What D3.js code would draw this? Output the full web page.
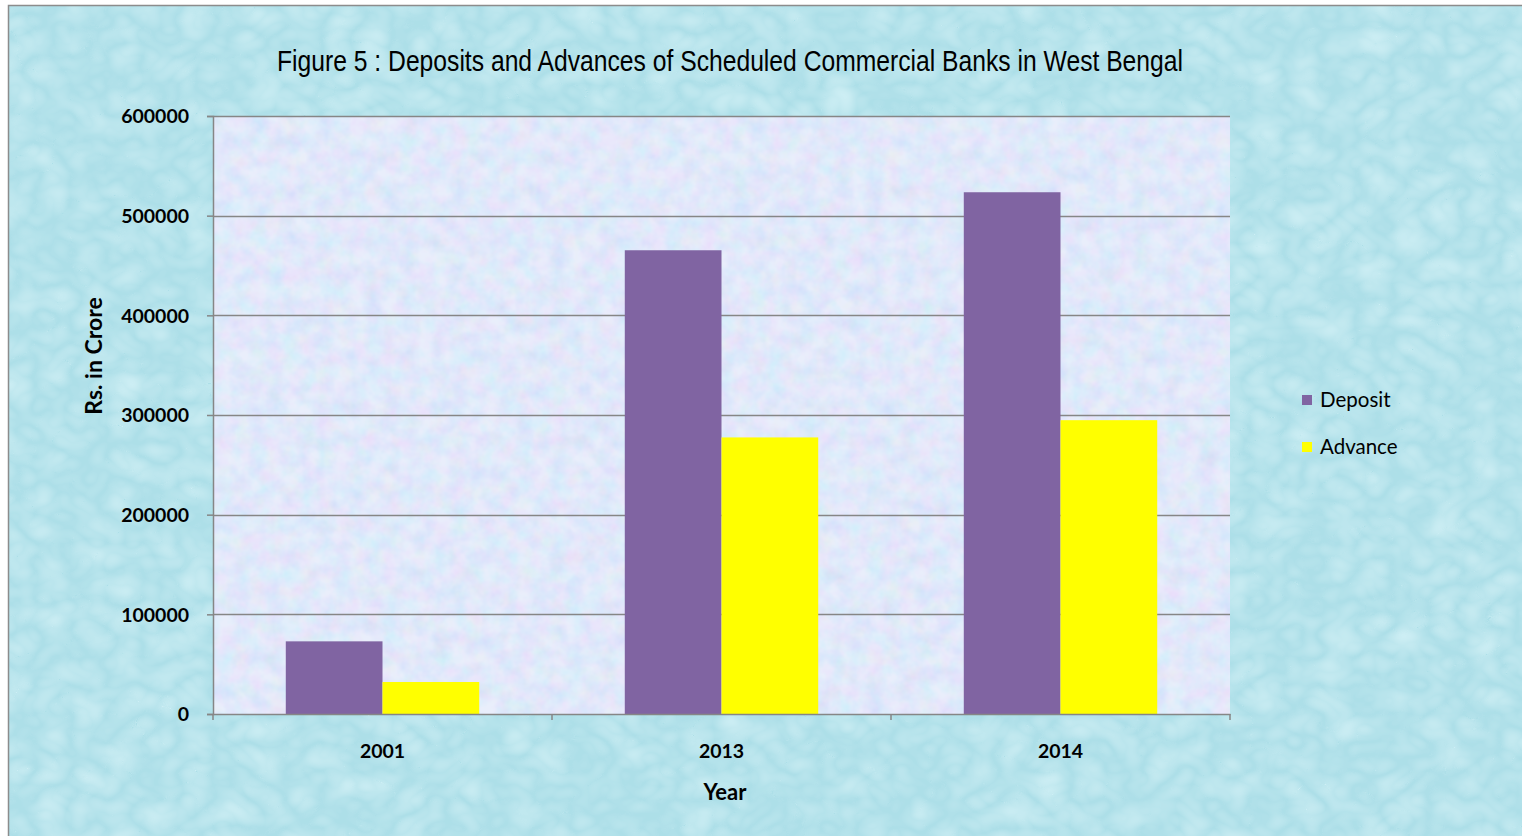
<!DOCTYPE html>
<html>
<head>
<meta charset="utf-8">
<script src="https://cdn.jsdelivr.net/npm/d3@7"></script>
<style>
html,body{margin:0;padding:0;background:#ffffff;overflow:hidden;}
svg{display:block;}
</style>
</head>
<body>
<script>
const categories = ["2001", "2013", "2014"];
const seriesNames = ["Deposit", "Advance"];
const depositValues = [72900, 465300, 523500];
const advanceValues = [32100, 277500, 294800];
const yTicks = [0, 100000, 200000, 300000, 400000, 500000, 600000];
const seriesColors = ["#8064a2", "#ffff00"];
const titleText = "Figure 5 : Deposits and Advances of Scheduled Commercial Banks in West Bengal";
const yTitle = "Rs. in Crore";
const xTitle = "Year";

const W = 1522, H = 836;
const plot = {left: 213, top: 116, right: 1230, bottom: 714};

const svg = d3.select("body").append("svg").attr("width", W).attr("height", H);
const defs = svg.append("defs");

// outer water texture
const f1 = defs.append("filter").attr("id", "water").attr("x", 0).attr("y", 0).attr("width", "100%").attr("height", "100%");
f1.append("feTurbulence").attr("type", "turbulence").attr("baseFrequency", "0.028 0.035").attr("numOctaves", 2).attr("seed", 7).attr("result", "t");
f1.append("feColorMatrix").attr("in", "t").attr("type", "matrix")
  .attr("values", "0 0 0 0 0.62  0 0 0 0 0.86  0 0 0 0 0.91  1.2 0 0 0 -0.05").attr("result", "c");
f1.append("feComposite").attr("in", "c").attr("in2", "SourceGraphic").attr("operator", "over");

// plot area pastel texture
const f2 = defs.append("filter").attr("id", "pastel").attr("x", 0).attr("y", 0).attr("width", "100%").attr("height", "100%");
f2.append("feTurbulence").attr("type", "fractalNoise").attr("baseFrequency", "0.06").attr("numOctaves", 3).attr("seed", 3).attr("result", "n");
f2.append("feColorMatrix").attr("in", "n").attr("type", "matrix")
  .attr("values", "0.6 0 0 0 0.58  0 0.4 0 0 0.72  0 0 0.3 0 0.84  0 0 0 0 0.5").attr("result", "c");
f2.append("feComposite").attr("in", "c").attr("in2", "SourceGraphic").attr("operator", "over");

svg.append("rect").attr("x", 0).attr("y", 0).attr("width", W).attr("height", H).attr("fill", "#ffffff");
svg.append("rect").attr("x", 9).attr("y", 6).attr("width", W + 20).attr("height", H + 20)
  .attr("fill", "#addfe8").attr("filter", "url(#water)");
svg.append("rect").attr("x", 8.5).attr("y", 5.5).attr("width", W + 20).attr("height", H + 20)
  .attr("fill", "none").attr("stroke", "#8c8c8c").attr("stroke-width", 1.5);

// plot background
svg.append("rect").attr("x", plot.left).attr("y", plot.top)
  .attr("width", plot.right - plot.left).attr("height", plot.bottom - plot.top)
  .attr("fill", "#cfdaf7").attr("filter", "url(#pastel)");

const x = d3.scaleBand().domain(categories).range([plot.left, plot.right]).paddingInner(0).paddingOuter(0);
const y = d3.scaleLinear().domain([0, 600000]).range([plot.bottom, plot.top]);
const barW = x.bandwidth() * 0.2853;
const xs = d3.scaleBand().domain(seriesNames).range([0, barW * 2]);

// gridlines
svg.append("g").selectAll("line").data(yTicks.filter(d => d > 0)).join("line")
  .attr("x1", plot.left).attr("x2", plot.right)
  .attr("y1", d => Math.round(y(d)) + 0.5).attr("y2", d => Math.round(y(d)) + 0.5)
  .attr("stroke", "#868686").attr("stroke-width", 1.5);

// bars
const data = categories.map((c, i) => ({cat: c, vals: [depositValues[i], advanceValues[i]]}));
const groups = svg.append("g").selectAll("g").data(data).join("g")
  .attr("transform", d => `translate(${x(d.cat) + (x.bandwidth() - barW * 2) / 2},0)`);
groups.selectAll("rect").data(d => d.vals.map((v, j) => ({v, s: seriesNames[j], j}))).join("rect")
  .attr("x", d => xs(d.s)).attr("width", xs.bandwidth())
  .attr("y", d => y(d.v)).attr("height", d => y(0) - y(d.v))
  .attr("fill", d => seriesColors[d.j]);

// axes
const yAxis = d3.axisLeft(y).tickValues(yTicks).tickSize(6).tickPadding(16).tickFormat(d3.format("d"));
const gy = svg.append("g").attr("transform", `translate(${plot.left},0)`).call(yAxis);
gy.select(".domain").attr("stroke", "#868686").attr("stroke-width", 1.5);
gy.selectAll(".tick line").attr("stroke", "#868686").attr("stroke-width", 1.5);
gy.selectAll("text").attr("font-family", "Lato, 'Open Sans', sans-serif").attr("font-weight", "bold")
  .attr("font-size", "19.5px").attr("fill", "#000").attr("dy", "0.35em").attr("dx", "-2");

const xAxis = d3.axisBottom(x).tickSize(0).tickPadding(30);
const gx = svg.append("g").attr("transform", `translate(0,${plot.bottom})`).call(xAxis);
gx.select(".domain").attr("stroke", "#868686").attr("stroke-width", 1.5);
gx.selectAll("text").attr("font-family", "Lato, 'Open Sans', sans-serif").attr("font-weight", "bold")
  .attr("font-size", "19.5px").attr("fill", "#000");
// category boundary tick marks
svg.append("g").selectAll("line").data(categories.map(c => x(c)).concat([plot.right])).join("line")
  .attr("x1", d => d).attr("x2", d => d).attr("y1", plot.bottom).attr("y2", plot.bottom + 6)
  .attr("stroke", "#868686").attr("stroke-width", 1.5);

// titles
svg.append("text").attr("x", 730).attr("y", 71).attr("text-anchor", "middle")
  .attr("font-family", "'Liberation Sans Narrow', 'Arial Narrow', 'Liberation Sans', sans-serif")
  .attr("font-size", "29px").attr("fill", "#000").attr("textLength", 906).attr("lengthAdjust", "spacingAndGlyphs")
  .text(titleText);
svg.append("text").attr("transform", "translate(102,356) rotate(-90)").attr("text-anchor", "middle")
  .attr("font-family", "Lato, 'Open Sans', sans-serif").attr("font-weight", "bold").attr("font-size", "23px")
  .attr("fill", "#000").text(yTitle);
svg.append("text").attr("x", 725).attr("y", 800).attr("text-anchor", "middle")
  .attr("font-family", "Lato, 'Open Sans', sans-serif").attr("font-weight", "bold").attr("font-size", "22px")
  .attr("fill", "#000").text(xTitle);

// legend
const lg = svg.append("g").selectAll("g").data(seriesNames).join("g")
  .attr("transform", (d, i) => `translate(1302,${395 + i * 47})`);
lg.append("rect").attr("width", 10).attr("height", 10).attr("fill", (d, i) => seriesColors[i]);
lg.append("text").attr("x", 18).attr("y", 12).attr("font-family", "Lato, 'Open Sans', sans-serif")
  .attr("font-size", "20.5px").attr("fill", "#000").text(d => d);
</script>
</body>
</html>
